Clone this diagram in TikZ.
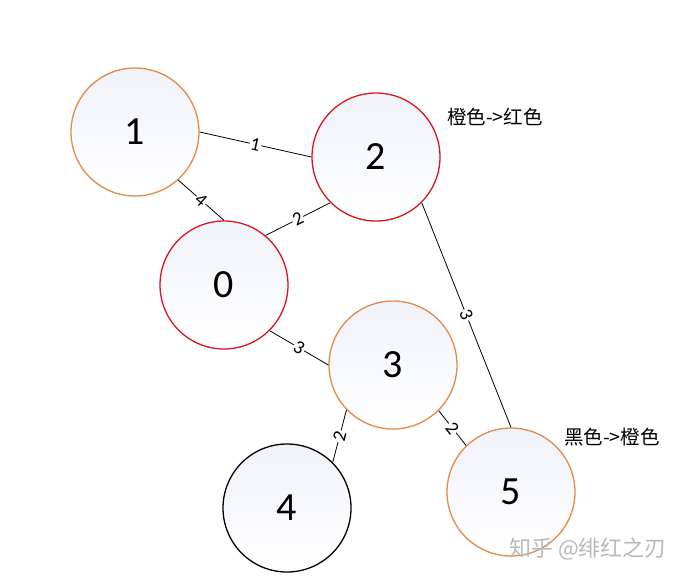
\documentclass[tikz,border=0pt]{standalone}
\usepackage{fontspec}
\setmainfont{Carlito}
\newfontfamily\cjk{Noto Sans CJK SC}
\definecolor{orangeE}{RGB}{226,138,70}
\definecolor{redE}{RGB}{216,22,30}
\definecolor{fillTop}{RGB}{240,242,249}
\definecolor{wmark}{RGB}{185,185,185}
\tikzset{
  vtx/.style={circle, minimum size=128pt, inner sep=0pt, line width=1.3pt,
    top color=fillTop, bottom color=white, font=\fontsize{40}{42}\selectfont},
  ored/.style={vtx, draw=redE},
  oorange/.style={vtx, draw=orangeE},
  oblack/.style={vtx, draw=black},
  edge/.style={line width=0.8pt, black},
  wlab/.style={midway, sloped, fill=white, inner sep=1pt, font=\fontsize{19}{20}\selectfont},
  note/.style={font=\cjk\fontsize{19.5}{21}\selectfont, inner sep=0pt}
}
\begin{document}
\begin{tikzpicture}[x=1pt, y=-1pt]
\useasboundingbox (0,0) rectangle (677,581);
\node[oorange] (n1) at (135,132) {1};
\node[ored] (n2) at (376,157) {2};
\node[ored] (n0) at (224,285) {0};
\node[oorange] (n3) at (393,365) {3};
\node[oblack] (n4) at (287,508) {4};
\node[oorange] (n5) at (511,492) {5};
\draw[edge] (n1.0) -- node[wlab] {1} (n2.180);
\draw[edge] (n1.-48) -- node[wlab] {4} (n0.90);
\draw[edge] (n2.225) -- node[wlab] {2} (n0.50);
\draw[edge] (n0.-45) -- node[wlab] {3} (n3.180);
\draw[edge] (n3.-136) -- node[wlab] {2} (n4.45);
\draw[edge] (n3.-45) -- node[wlab] {2} (n5.134);
\draw[edge] (n2.-45) -- node[wlab] {3} (n5.90);
\node[note] (t1) at (495,117) {橙色->红色};
\node[note] (t2) at (612,437) {黑色->橙色};
\node[font=\cjk\fontsize{22}{24}\selectfont, text=wmark, inner sep=0pt] (wm) at (588,549) {知乎 @绯红之刃};
\end{tikzpicture}
\end{document}
